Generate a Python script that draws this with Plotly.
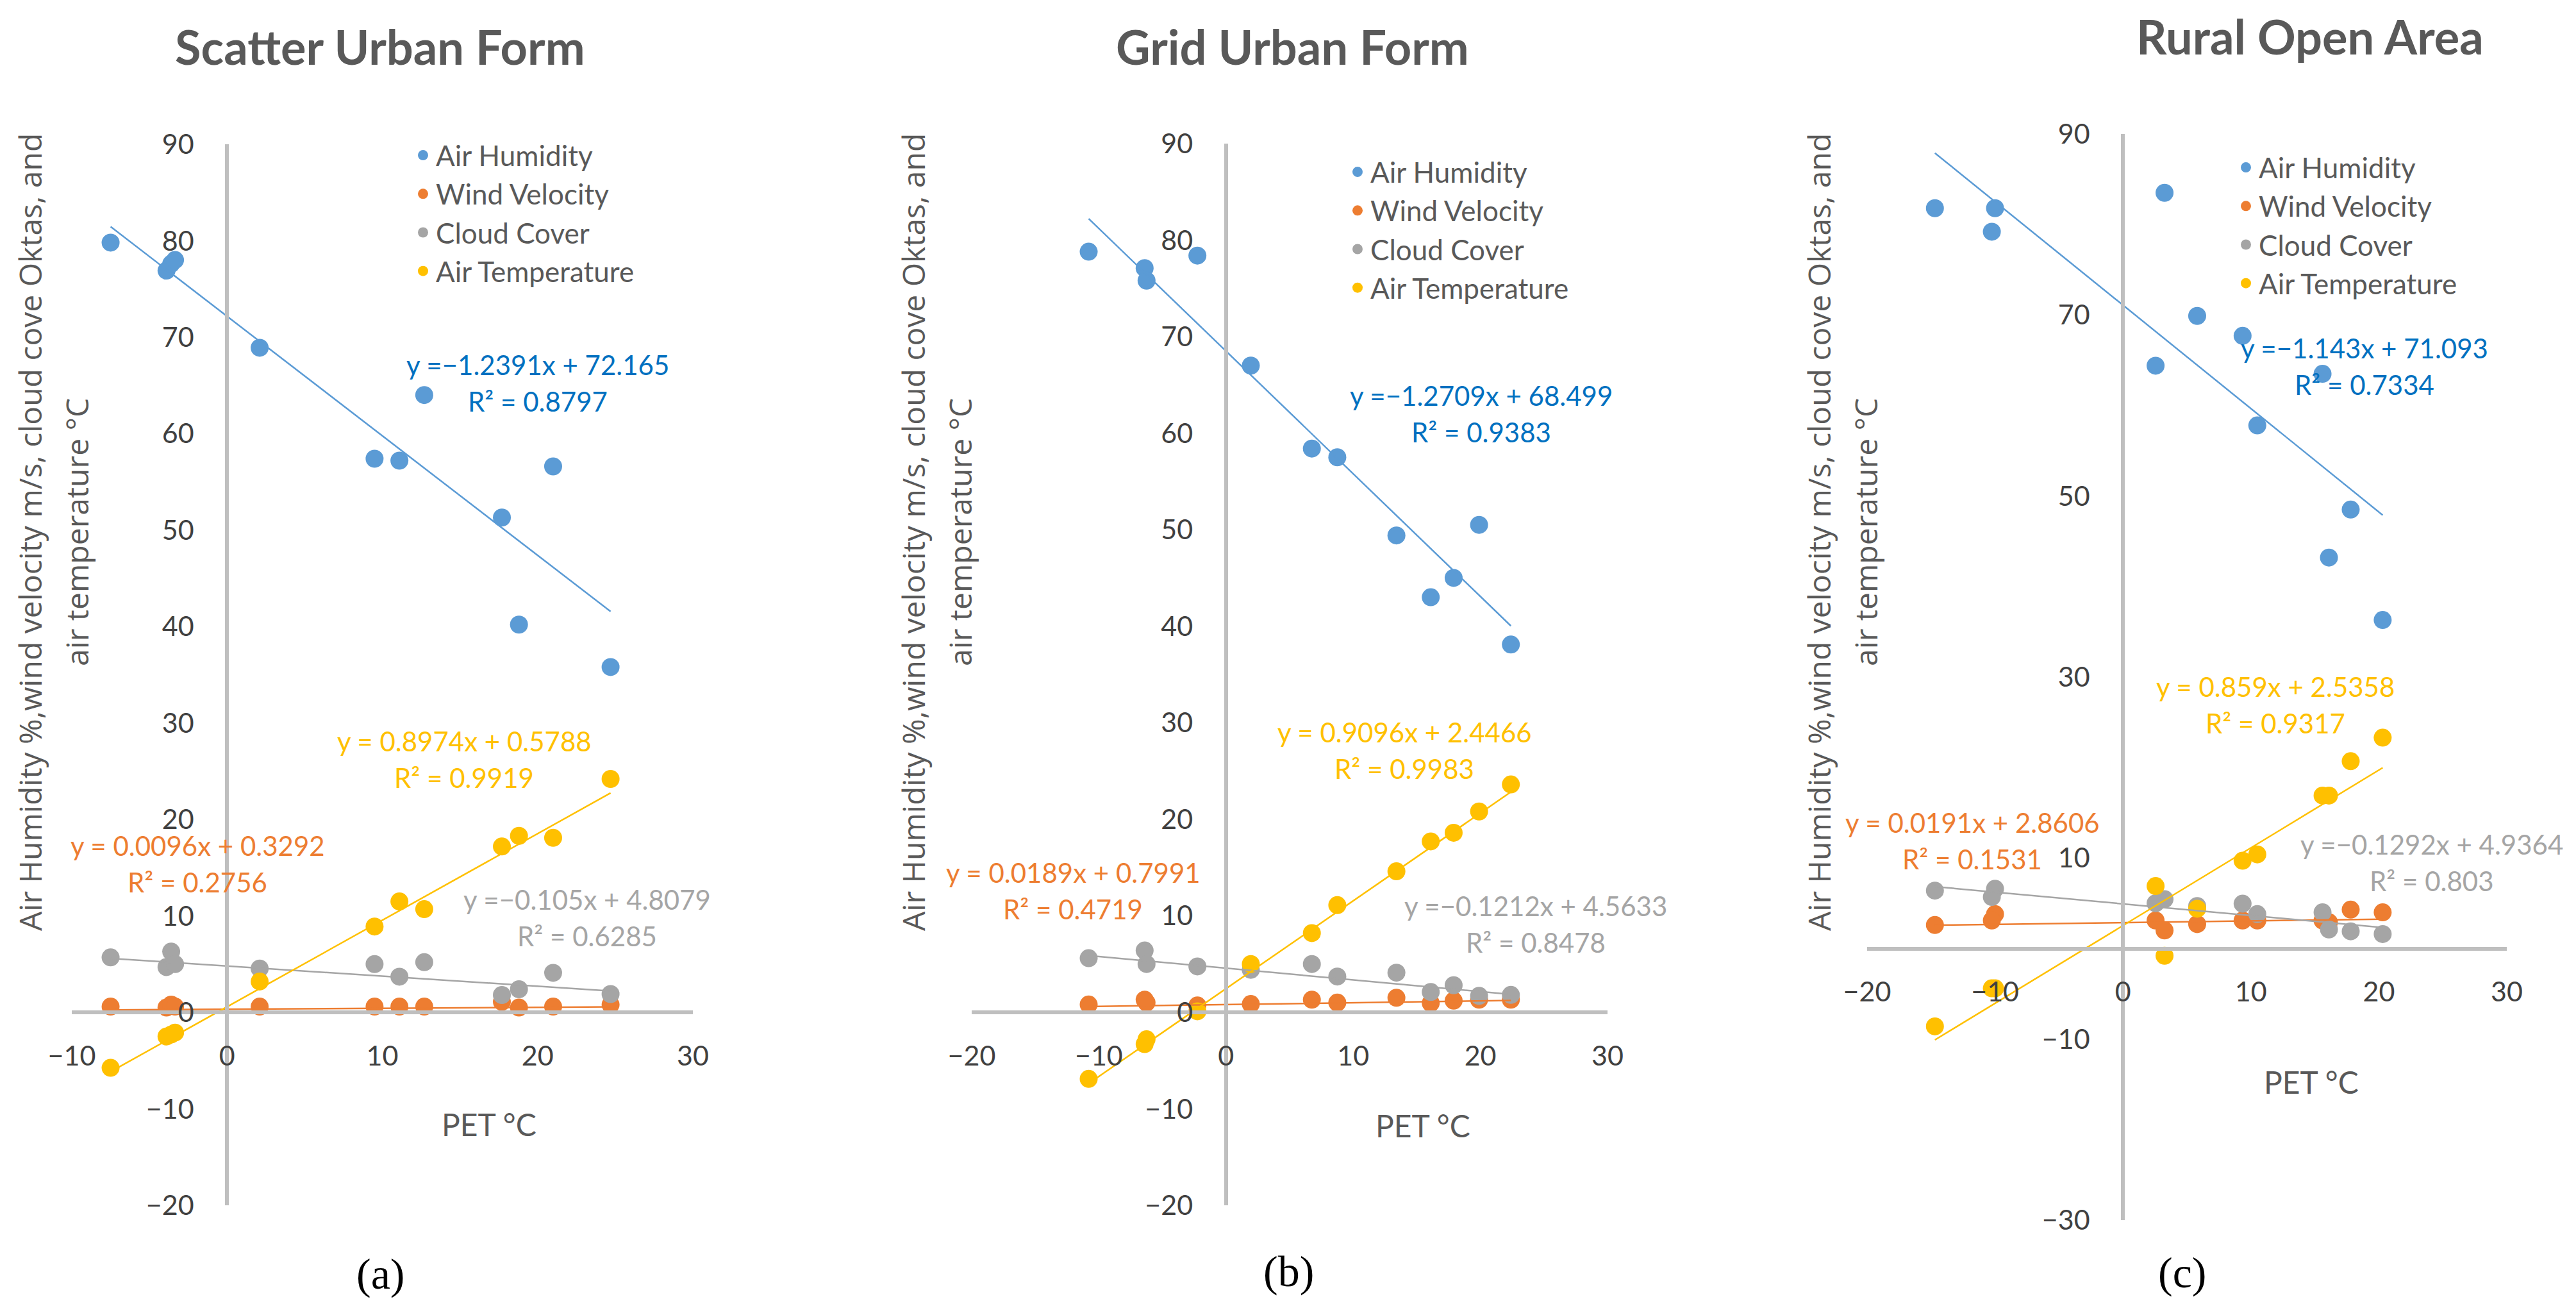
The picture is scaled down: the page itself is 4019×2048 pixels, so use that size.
import plotly.graph_objects as go

# figure size in px
W, H = 4019, 2048

series_names = ["Air Humidity", "Wind Velocity", "Cloud Cover", "Air Temperature"]
marker_colors = ["#5B9BD5", "#ED7D31", "#A5A5A5", "#FFC000"]
label_colors = ["#0070C0", "#ED7D31", "#A5A5A5", "#FFC000"]

panel_titles = ["Scatter Urban Form", "Grid Urban Form", "Rural Open Area"]
panel_tags = ["(a)", "(b)", "(c)"]

# (a) scatter urban form
pet_a = [-7.5, -3.9, -3.6, -3.35, 2.1, 9.5, 11.1, 12.7, 17.7, 18.8, 21.0, 24.7]
hum_a = [79.8, 76.9, 77.6, 78.0, 68.9, 57.4, 57.2, 64.0, 51.3, 40.2, 56.6, 35.8]
wind_a = [0.6, 0.5, 0.8, 0.6, 0.6, 0.6, 0.6, 0.6, 1.1, 0.5, 0.6, 0.8]
cloud_a = [5.7, 4.7, 6.3, 5.0, 4.55, 5.0, 3.7, 5.2, 1.8, 2.4, 4.1, 1.9]
temp_a = [-5.75, -2.5, -2.3, -2.1, 3.2, 8.9, 11.5, 10.7, 17.2, 18.3, 18.1, 24.2]
slope_a = [-1.2391, 0.0096, -0.105, 0.8974]
icpt_a = [72.165, 0.3292, 4.8079, 0.5788]
r2_a = ["0.8797", "0.2756", "0.6285", "0.9919"]

# (b) grid urban form
pet_b = [-10.8, -6.4, -6.25, -2.25, 1.95, 6.75, 8.75, 13.4, 16.1, 17.9, 19.9, 22.4]
hum_b = [78.8, 77.1, 75.8, 78.4, 67.0, 58.4, 57.5, 49.4, 43.0, 45.0, 50.5, 38.1]
wind_b = [0.8, 1.3, 1.0, 0.7, 0.85, 1.3, 1.0, 1.5, 0.95, 1.2, 1.3, 1.3]
cloud_b = [5.6, 6.4, 5.0, 4.75, 4.4, 5.0, 3.7, 4.1, 2.1, 2.8, 1.7, 1.8]
temp_b = [-6.9, -3.3, -2.8, 0.1, 5.0, 8.2, 11.1, 14.6, 17.7, 18.6, 20.8, 23.6]
slope_b = [-1.2709, 0.0189, -0.1212, 0.9096]
icpt_b = [68.499, 0.7991, 4.5633, 2.4466]
r2_b = ["0.9383", "0.4719", "0.8478", "0.9983"]

# (c) rural open area
pet_c = [-14.7, -10.0, -10.25, 2.55, 3.25, 5.8, 9.35, 10.5, 15.6, 16.1, 17.8, 20.3]
hum_c = [81.8, 81.8, 79.2, 64.4, 83.5, 69.9, 67.7, 57.8, 63.5, 43.2, 48.5, 36.3]
wind_c = [2.6, 3.8, 3.1, 3.1, 2.0, 2.7, 3.1, 3.1, 3.1, 2.9, 4.3, 4.0]
cloud_c = [6.4, 6.6, 5.7, 5.0, 5.45, 4.7, 4.95, 3.8, 4.0, 2.1, 1.9, 1.6]
temp_c = [-8.6, -4.4, -4.4, 6.9, -0.8, 4.4, 9.7, 10.4, 16.9, 16.9, 20.7, 23.3]
slope_c = [-1.143, 0.0191, -0.1292, 0.859]
icpt_c = [71.093, 2.8606, 4.9364, 2.5358]
r2_c = ["0.7334", "0.1531", "0.803", "0.9317"]

x_ranges = [[-10, 30], [-20, 30], [-20, 30]]
y_ranges = [[-20, 90], [-20, 90], [-30, 90]]
y_dticks = [10, 10, 20]

panels = [
    (pet_a, [hum_a, wind_a, cloud_a, temp_a], slope_a, icpt_a, r2_a),
    (pet_b, [hum_b, wind_b, cloud_b, temp_b], slope_b, icpt_b, r2_b),
    (pet_c, [hum_c, wind_c, cloud_c, temp_c], slope_c, icpt_c, r2_c),
]

# layout in pixels (left, right, top, bottom of each plot area)
boxes = [(104, 1073, 217, 1872), (1508, 2500, 216, 1872), (2905, 3903, 201, 1895)]
title_pos = [(585, 64), (2008, 64), (3596, 48)]
ytitle_x = [(38, 111), (1416, 1489), (2829, 2902)]
legend_pos = [(660, 231), (2118, 257), (3504, 250)]
# equation label centres (equation line) for humidity, wind, cloud, temperature
eq_pos = [
    [(831, 561), (300, 1311), (908, 1395), (716, 1148)],
    [(2303, 609), (1666, 1353), (2388, 1405), (2183, 1134)],
    [(3681, 535), (3069, 1275), (3786, 1309), (3542, 1063)],
]
pet_pos = [(755, 1745), (2212, 1747), (3598, 1679)]
tag_pos = [(585, 1979), (2002, 1975), (3396, 1977)]

FONT = "Lato"
GREY = "#595959"


def px(x, y):
    return x / W, 1 - y / H


def fmt_eq(m, b):
    s = "y =" + ("−" + str(abs(m)) if m < 0 else " " + str(m)) + "x"
    s += (" + " if b >= 0 else " − ") + str(abs(b))
    return s


fig = go.Figure()
annotations = []

for i, (pet, vals, slopes, icpts, r2s) in enumerate(panels):
    n = "" if i == 0 else str(i + 1)
    xa, ya, lg = "x" + n, "y" + n, "legend" + n
    x0, x1 = min(pet), max(pet)

    for k in range(4):
        fig.add_trace(go.Scatter(
            x=pet, y=vals[k], mode="markers", name=series_names[k],
            marker=dict(color=marker_colors[k], size=28),
            xaxis=xa, yaxis=ya, legend=lg,
        ))
    # linear trend lines
    for k in range(4):
        fig.add_trace(go.Scatter(
            x=[x0, x1], y=[slopes[k] * x0 + icpts[k], slopes[k] * x1 + icpts[k]],
            mode="lines", line=dict(color=marker_colors[k], width=2.5),
            showlegend=False, xaxis=xa, yaxis=ya, hoverinfo="skip",
        ))

    left, right, top, bottom = boxes[i]
    xr, yr = x_ranges[i], y_ranges[i]
    xd = [left / W, right / W]
    yd = [1 - bottom / H, 1 - top / H]
    # axes cross at zero like the Excel chart
    xpos = yd[0] + (0 - yr[0]) / (yr[1] - yr[0]) * (yd[1] - yd[0])
    ypos = xd[0] + (0 - xr[0]) / (xr[1] - xr[0]) * (xd[1] - xd[0])

    common = dict(showgrid=False, zeroline=False, showline=True,
                  linecolor="#BFBFBF", linewidth=6, ticks="",
                  tickfont=dict(family=FONT, size=43, color="#404040"),
                  anchor="free", automargin=False)
    fig.update_layout({
        "xaxis" + n: dict(domain=xd, range=xr, dtick=10, tick0=0,
                          position=xpos, ticklabelstandoff=28, **common),
        "yaxis" + n: dict(domain=yd, range=yr, dtick=y_dticks[i], tick0=yr[0],
                          position=ypos, ticklabelstandoff=40, **common),
        lg: dict(x=(legend_pos[i][0] - 28) / W, y=1 - (legend_pos[i][1] - 32) / H,
                 xanchor="left", yanchor="top", bgcolor="rgba(0,0,0,0)",
                 font=dict(family=FONT, size=44, color=GREY),
                 itemsizing="trace"),
    })

    tx, ty = px(*title_pos[i])
    annotations.append(dict(x=tx, y=ty, text="<b>" + panel_titles[i] + "</b>",
                            font=dict(family=FONT, size=74, color=GREY)))
    cy = 822
    l1x, _ = px(ytitle_x[i][0], cy)
    l2x, yy = px(ytitle_x[i][1], cy)
    annotations.append(dict(x=l1x, y=yy, textangle=-90,
                            text="Air Humidity %,wind velocity m/s, cloud cove Oktas, and",
                            font=dict(family="Open Sans", size=48, color=GREY)))
    annotations.append(dict(x=l2x, y=yy, textangle=-90, text="air temperature °C",
                            font=dict(family="Open Sans", size=48, color=GREY)))
    for k in range(4):
        ex, ey = eq_pos[i][k]
        annotations.append(dict(x=ex / W, y=1 - ey / H, text=fmt_eq(slopes[k], icpts[k]),
                                font=dict(family=FONT, size=42, color=label_colors[k])))
        annotations.append(dict(x=ex / W, y=1 - (ey + 57) / H, text="R² = " + r2s[k],
                                font=dict(family=FONT, size=42, color=label_colors[k])))
    pxx, pyy = px(*pet_pos[i])
    annotations.append(dict(x=pxx, y=pyy, text="PET °C",
                            font=dict(family=FONT, size=48, color=GREY)))
    gx, gy = px(*tag_pos[i])
    annotations.append(dict(x=gx, y=gy, text=panel_tags[i],
                            font=dict(family="Liberation Serif", size=68, color="#000000")))

for a in annotations:
    a.update(xref="paper", yref="paper", showarrow=False,
             xanchor="center", yanchor="middle")

fig.update_layout(
    width=W, height=H,
    margin=dict(l=0, r=0, t=0, b=0, autoexpand=False),
    paper_bgcolor="white", plot_bgcolor="white",
    annotations=annotations,
)

fig.write_html("out.html")
